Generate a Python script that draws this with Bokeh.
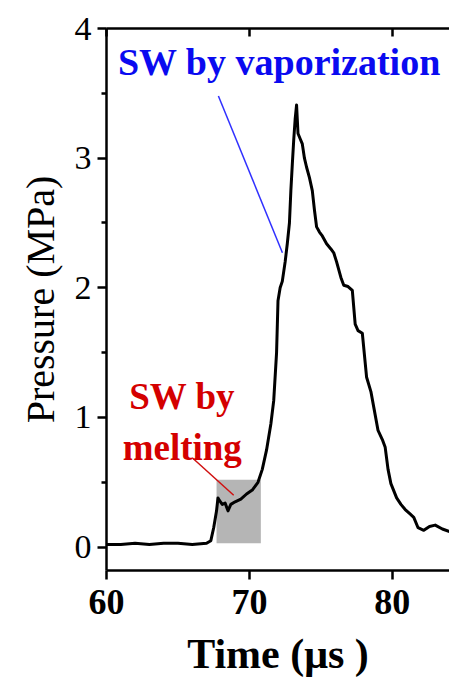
from bokeh.plotting import figure
from bokeh.models import LinearAxis, FixedTicker, Range1d
from bokeh.core.properties import value
from bokeh.embed import file_html
from bokeh.resources import INLINE

# ---- data ----
time_us = [60, 61, 62, 63, 64, 65, 66, 67, 67.3, 67.5, 67.7, 67.8, 67.9, 68.1, 68.3,
           68.5, 68.7, 69.0, 69.4, 69.8, 70.2, 70.6, 70.9, 71.2, 71.5, 71.7, 71.9,
           72.0, 72.15, 72.3, 72.5, 72.65, 72.8, 72.9, 73.0, 73.1, 73.2, 73.3, 73.35,
           73.4, 73.55, 73.7, 73.85, 74.0, 74.2, 74.4, 74.55, 74.7, 74.9, 75.1, 75.4,
           75.7, 75.9, 76.1, 76.4, 76.6, 76.9, 77.2, 77.4, 77.6, 77.9, 78.2, 78.5,
           78.7, 79.0, 79.3, 79.5, 79.7, 79.9, 80.3, 80.6, 80.9, 81.2, 81.5, 81.8,
           82.2, 82.6, 83.0, 83.5, 84.0]
pressure_mpa = [0.02, 0.02, 0.03, 0.02, 0.03, 0.03, 0.02, 0.03, 0.05, 0.15, 0.28, 0.38,
                0.36, 0.33, 0.34, 0.28, 0.33, 0.35, 0.37, 0.41, 0.44, 0.50, 0.60, 0.75,
                0.95, 1.13, 1.50, 1.90, 2.00, 2.05, 2.20, 2.34, 2.50, 2.75, 2.95, 3.14,
                3.30, 3.41, 3.30, 3.19, 3.15, 3.11, 3.00, 2.93, 2.85, 2.75, 2.60, 2.47,
                2.43, 2.40, 2.34, 2.30, 2.27, 2.20, 2.08, 2.02, 2.01, 1.98, 1.72, 1.67,
                1.65, 1.31, 1.20, 1.08, 0.90, 0.83, 0.77, 0.60, 0.49, 0.38, 0.33, 0.29,
                0.26, 0.23, 0.15, 0.13, 0.16, 0.17, 0.14, 0.12]

x_ticks = [60, 70, 80]
y_ticks = [0, 1, 2, 3, 4]
y_minor_ticks = [0.5, 1.5, 2.5, 3.5]

# melting region box (time range, pressure range)
melt_box_t = [67.7, 70.8]
melt_box_p = [0.03, 0.52]

# annotations
vap_label = "SW by vaporization"
vap_label_pos = (72.1, 3.74)
vap_pointer_t = [67.83, 72.31]
vap_pointer_p = [3.48, 2.27]

melt_label_lines = ["SW by", "melting"]
melt_label_t = [65.3, 65.3]
melt_label_p = [1.16, 0.77]
melt_pointer_t = [66.0, 68.9]
melt_pointer_p = [0.69, 0.40]

SERIF = value("Liberation Serif")

p = figure(width=449, height=681, x_range=Range1d(60, 84), y_range=Range1d(-0.18, 4),
           output_backend="svg", toolbar_location=None,
           min_border_left=106, min_border_right=0, min_border_top=28, min_border_bottom=111)
p.grid.visible = False
p.outline_line_color = None
p.background_fill_color = "white"
p.border_fill_color = "white"

# axes
p.xaxis.ticker = FixedTicker(ticks=x_ticks)
p.yaxis.ticker = FixedTicker(ticks=y_ticks, minor_ticks=y_minor_ticks)
for ax in (p.xaxis[0], p.yaxis[0]):
    ax.axis_line_width = 2.5
    ax.axis_line_color = "black"
    ax.major_tick_line_width = 2.5
    ax.minor_tick_line_width = 2.5
    ax.major_tick_in = 0
    ax.major_tick_out = 9
    ax.major_label_text_font = "Liberation Serif"
    ax.axis_label_text_font = "Liberation Serif"
    ax.major_label_text_color = "black"
    ax.axis_label_text_color = "black"
p.xaxis.minor_tick_line_color = None
p.yaxis.minor_tick_in = 0
p.yaxis.minor_tick_out = 5

p.xaxis.major_label_text_font_size = "36px"
p.xaxis.major_label_text_font_style = "bold"
p.xaxis.axis_label = "Time (μs )"
p.xaxis.axis_label_text_font_size = "42px"
p.xaxis.axis_label_text_font_style = "bold"
p.xaxis.major_label_standoff = 10
p.xaxis.axis_label_standoff = 14

p.yaxis.major_label_text_font_size = "34px"
p.yaxis.major_label_text_font_style = "normal"
p.yaxis.axis_label = "Pressure (MPa)"
p.yaxis.axis_label_text_font_size = "40px"
p.yaxis.axis_label_text_font_style = "normal"
p.yaxis.major_label_standoff = 6
p.yaxis.axis_label_standoff = 9

top_axis = LinearAxis(ticker=FixedTicker(ticks=x_ticks), axis_line_width=2.5,
                      major_tick_line_width=2.5, major_tick_in=8, major_tick_out=0,
                      minor_tick_line_color=None, major_label_text_font_size="0px",
                      major_label_text_color=None)
p.add_layout(top_axis, "above")

# melting box
p.quad(left=melt_box_t[0], right=melt_box_t[1], bottom=melt_box_p[0], top=melt_box_p[1],
       fill_color="#b5b5b5", line_color=None)

# curve
p.line(time_us, pressure_mpa, line_color="black", line_width=3, line_join="round")

# annotations
p.line(vap_pointer_t, vap_pointer_p, line_color="#3030ff", line_width=1.5)
p.text(x=[vap_label_pos[0]], y=[vap_label_pos[1]], text=[vap_label], text_color="#0a0af0",
       text_font=SERIF, text_font_style="bold", text_font_size="38px",
       text_align="center", text_baseline="middle")

p.line(melt_pointer_t, melt_pointer_p, line_color="#d01010", line_width=1.5)
p.text(x=melt_label_t, y=melt_label_p, text=melt_label_lines, text_color="#d40000",
       text_font=SERIF, text_font_style="bold", text_font_size="37px",
       text_align="center", text_baseline="middle")

open("out.html", "w").write(file_html(p, INLINE))
